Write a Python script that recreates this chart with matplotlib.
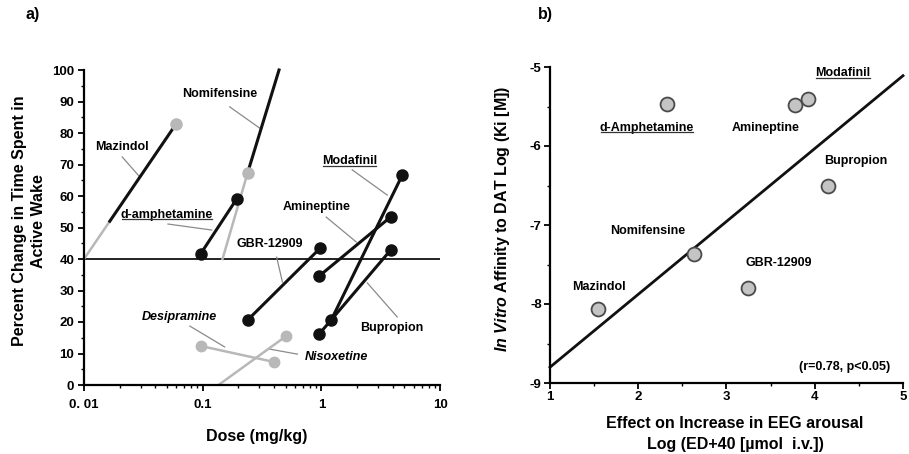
import matplotlib
matplotlib.use('Agg')
import matplotlib.pyplot as plt
from matplotlib.lines import Line2D
from matplotlib.transforms import IdentityTransform
from matplotlib.ticker import FixedLocator, FuncFormatter, MultipleLocator, NullFormatter

plt.rcParams['font.family'] = ['Liberation Sans', 'DejaVu Sans']
plt.rcParams['font.weight'] = 'bold'
plt.rcParams['mathtext.fontset'] = 'custom'
plt.rcParams['mathtext.rm'] = 'Liberation Sans:bold'
plt.rcParams['mathtext.it'] = 'Liberation Sans:italic:bold'
plt.rcParams['mathtext.bf'] = 'Liberation Sans:bold'

# ---------------- Panel a data ----------------
# black dose-response pairs (dose mg/kg, % change)
damph_dose = [0.096, 0.193]; damph_pct = [41.6, 59.0]
gbr_dose = [0.239, 0.975]; gbr_pct = [20.6, 43.4]
amin_dose = [0.96, 3.85]; amin_pct = [34.6, 53.4]
moda_dose = [1.21, 4.82]; moda_pct = [20.6, 66.7]
bupr_dose = [0.96, 3.85]; bupr_pct = [16.2, 42.9]
# gray compounds
desi_dose = [0.096, 0.40]; desi_pct = [12.4, 7.3]
nisox_dose = [0.136, 0.508]; nisox_pct = [0.0, 15.6]
# Mazindol: measured segment and extrapolation to 40 %
maz_dose = [0.0165, 0.06]; maz_pct = [52.0, 83.0]
maz_ext_dose = [0.01, 0.0165]; maz_ext_pct = [40.0, 52.0]
# Nomifensine: extrapolation (gray) and measured segment (black)
nomi_ext_dose = [0.147, 0.239]; nomi_ext_pct = [40.0, 67.3]
nomi_dose = [0.239, 0.44]; nomi_pct = [67.3, 100.0]
threshold = 40

xticks_a = [0.01, 0.1, 1, 10]
xticklabels_a = ['0. 01', '0.1', '1', '10']
yticks_a = list(range(0, 101, 10))

# labels: (text, x, y, style, underline)
labels_a = [
    ('Mazindol', 0.021, 75.6, 'normal', False),
    ('Nomifensine', 0.139, 92.4, 'normal', False),
    ('d-amphetamine', 0.050, 54.0, 'normal', True),
    ('GBR-12909', 0.366, 44.8, 'normal', False),
    ('Desipramine', 0.064, 21.6, 'italic', False),
    ('Nisoxetine', 1.34, 8.9, 'italic', False),
    ('Modafinil', 1.72, 71.1, 'normal', True),
    ('Amineptine', 0.91, 56.5, 'normal', False),
    ('Bupropion', 3.95, 18.1, 'normal', False),
]
leaders_a = [
    ([0.021, 0.0296], [72.4, 66.0]),
    ([0.169, 0.301], [88.3, 81.6]),
    ([0.051, 0.119], [51.1, 49.2]),
    ([0.42, 0.47], [40.6, 32.7]),
    ([0.078, 0.153], [18.7, 12.1]),
    ([0.366, 0.628], [11.4, 9.8]),
    ([1.82, 3.59], [68.3, 60.3]),
    ([1.10, 1.97], [53.3, 45.4]),
    ([2.44, 4.36], [32.4, 21.6]),
]

# ---------------- Panel b data ----------------
b_names = ['Mazindol', 'd-Amphetamine', 'Nomifensine', 'GBR-12909', 'Amineptine', 'Modafinil', 'Bupropion']
b_eeg = [1.54, 2.33, 2.63, 3.24, 3.78, 3.92, 4.15]
b_ki = [-8.06, -5.47, -7.37, -7.80, -5.48, -5.40, -6.51]
b_label_x = [1.55, 2.10, 2.11, 3.59, 3.44, 4.32, 4.46]
b_label_y = [-7.78, -5.77, -7.08, -7.48, -5.77, -5.08, -6.19]
b_underline = [False, True, False, False, False, True, False]
fit_x = [1, 5]
fit_y = [-8.80, -5.11]
stats_text = '(r=0.78, p<0.05)'

BLACK = '#111111'
GRAY = '#b8b8b8'
LEADER = '#8a8a8a'

fig = plt.figure(figsize=(9.09, 4.54), dpi=100)
fig.patch.set_facecolor('white')

ax = fig.add_axes([84/909, 1-385/454, 356/909, 315/454])
ax.set_xscale('log')
ax.set_xlim(0.01, 10)
ax.set_ylim(0, 100)

ax.axhline(threshold, color=BLACK, lw=1.3, zorder=1)

# gray extrapolations and gray compounds
ax.plot(maz_ext_dose, maz_ext_pct, color=GRAY, lw=1.8, zorder=2)
ax.plot(nomi_ext_dose, nomi_ext_pct, color=GRAY, lw=1.8, zorder=2)
ax.plot(desi_dose, desi_pct, color=GRAY, lw=1.8, marker='o', ms=7.5, mfc=GRAY, mec=GRAY, zorder=2)
ax.plot(nisox_dose, nisox_pct, color=GRAY, lw=1.8, zorder=2)
ax.plot(nisox_dose[-1:], nisox_pct[-1:], 'o', ms=7.5, color=GRAY, zorder=2)

# black lines
for d, p in [(damph_dose, damph_pct), (gbr_dose, gbr_pct), (amin_dose, amin_pct),
             (moda_dose, moda_pct), (bupr_dose, bupr_pct)]:
    ax.plot(d, p, color=BLACK, lw=2.2, marker='o', ms=8, mfc=BLACK, mec=BLACK, zorder=3)
ax.plot(maz_dose, maz_pct, color=BLACK, lw=2.2, zorder=3)
ax.plot(nomi_dose, nomi_pct, color=BLACK, lw=2.2, zorder=3, clip_on=False)
ax.plot(maz_dose[-1:], maz_pct[-1:], 'o', ms=8, color=GRAY, zorder=4)
ax.plot(nomi_dose[:1], nomi_pct[:1], 'o', ms=8, color=GRAY, zorder=4)

for xs, ys in leaders_a:
    ax.plot(xs, ys, color=LEADER, lw=0.9, zorder=1.5)

under_texts = []
for txt, x, y, style, ul in labels_a:
    t = ax.text(x, y, txt, ha='center', va='center', fontsize=9, fontweight='bold',
                fontstyle=style, zorder=5)
    if ul:
        under_texts.append(t)

for s in ['top', 'right']:
    ax.spines[s].set_visible(False)
for s in ['left', 'bottom']:
    ax.spines[s].set_linewidth(1.6)
ax.xaxis.set_major_locator(FixedLocator(xticks_a))
ax.set_xticklabels(xticklabels_a)
ax.xaxis.set_minor_formatter(NullFormatter())
ax.yaxis.set_major_locator(FixedLocator(yticks_a))
ax.yaxis.set_minor_locator(MultipleLocator(5))
ax.tick_params(axis='both', which='major', direction='out', length=4, width=1.3,
               labelsize=9.5, pad=3)
ax.tick_params(axis='both', which='minor', direction='out', length=2.5, width=1.0)
for lab in ax.get_xticklabels() + ax.get_yticklabels():
    lab.set_fontweight('bold')
ax.tick_params(axis='x', pad=6)

fig.text(29/909, 1-221/454, 'Percent Change in Time Spent in\nActive Wake', rotation=90,
         ha='center', va='center', fontsize=11.5, fontweight='bold', multialignment='center',
         linespacing=1.35)
fig.text(257/909, 1-437/454, 'Dose (mg/kg)', ha='center', va='center', fontsize=11.5,
         fontweight='bold')
fig.text(33/909, 1-15/454, 'a)', ha='center', va='center', fontsize=11.5, fontweight='bold')

# ---------------- Panel b ----------------
bx = fig.add_axes([550/909, 1-383/454, 353/909, 316/454])
bx.set_xlim(1, 5)
bx.set_ylim(-9, -5)
bx.plot(fit_x, fit_y, color=BLACK, lw=2.0, zorder=2, clip_on=False)
bx.scatter(b_eeg, b_ki, s=100, c='#c4c4c4', edgecolors='#4a4a4a', linewidths=1.3, zorder=3)
for name, lx, ly, ul in zip(b_names, b_label_x, b_label_y, b_underline):
    t = bx.text(lx, ly, name, ha='center', va='center', fontsize=9, fontweight='bold', zorder=4)
    if ul:
        under_texts.append(t)
bx.text(4.34, -8.80, stats_text, ha='center', va='center', fontsize=9, fontweight='bold')

for s in ['top', 'right']:
    bx.spines[s].set_visible(False)
for s in ['left', 'bottom']:
    bx.spines[s].set_linewidth(1.6)
bx.xaxis.set_major_locator(MultipleLocator(1))
bx.xaxis.set_minor_locator(MultipleLocator(0.5))
bx.yaxis.set_major_locator(MultipleLocator(1))
bx.yaxis.set_minor_locator(MultipleLocator(0.5))
bx.xaxis.set_major_formatter(FuncFormatter(lambda v, p: '%d' % v))
bx.yaxis.set_major_formatter(FuncFormatter(lambda v, p: ('%d' % v).replace('\u2212', '-')))
bx.tick_params(axis='both', which='major', direction='out', length=4, width=1.3,
               labelsize=9.5, pad=2)
bx.tick_params(axis='both', which='minor', direction='out', length=2.5, width=1.0)
for lab in bx.get_xticklabels() + bx.get_yticklabels():
    lab.set_fontweight('bold')

fig.text(503/909, 1-219/454, r'$\mathit{In\ Vitro}$ Affinity to DAT Log (Ki [M])', rotation=90,
         ha='center', va='center', fontsize=11.5, fontweight='bold')
fig.text(735/909, 1-424/454, 'Effect on Increase in EEG arousal', ha='center', va='center',
         fontsize=11.5, fontweight='bold')
fig.text(735/909, 1-444/454, 'Log (ED+40 [\u00b5mol  i.v.])', ha='center', va='center',
         fontsize=11.5, fontweight='bold')
fig.text(545/909, 1-15/454, 'b)', ha='center', va='center', fontsize=11.5, fontweight='bold')

# underlines
fig.canvas.draw()
renderer = fig.canvas.get_renderer()
for t in under_texts:
    bb = t.get_window_extent(renderer)
    fig.add_artist(Line2D([bb.x0 + 1, bb.x1 - 1], [bb.y0 + 1.5, bb.y0 + 1.5], color='#333333',
                          lw=0.9, transform=IdentityTransform()))

fig.savefig('out.png', dpi=100, facecolor='white')
